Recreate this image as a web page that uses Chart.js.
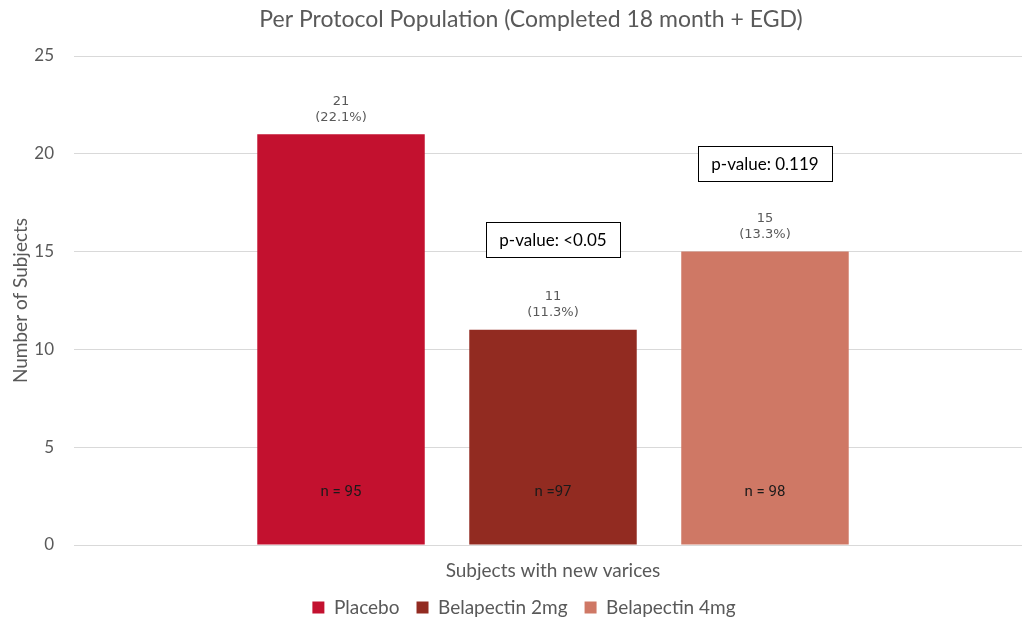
<!DOCTYPE html>
<html><head><meta charset="utf-8">
<script src="https://cdn.jsdelivr.net/npm/chart.js@4.4.1/dist/chart.umd.min.js"></script>
<style>html,body{margin:0;padding:0;background:#fff}#wrap{width:1022px;height:624px}</style>
</head><body><div id="wrap"><canvas id="c" width="1022" height="624"></canvas></div>
<script>
const categories = ['Subjects with new varices'];
const seriesNames = ['Placebo', 'Belapectin 2mg', 'Belapectin 4mg'];
const seriesValues = [21, 11, 15];
const seriesPct = ['(22.1%)', '(11.3%)', '(13.3%)'];
const seriesN = ['n = 95', 'n =97', 'n = 98'];
const seriesColors = ['#C3112F', '#922B21', '#CF7865'];
const pValueLabels = [null, 'p-value: <0.05', 'p-value: 0.119'];
const pValueLevels = [null, 15.6, 19.5];
const yTicks = [0, 5, 10, 15, 20, 25];

const legendShift = {
  id: 'legendShift',
  afterLayout(chart) {
    const l = chart.legend;
    l.top -= 7; l.bottom -= 7; l.left += 13; l.right += 13;
  }
};

const labelPlugin = {
  id: 'labels',
  afterDatasetsDraw(chart) {
    const ctx = chart.ctx;
    const y = chart.scales.y;
    chart.data.datasets.forEach((ds, i) => {
      const bar = chart.getDatasetMeta(i).data[0];
      ctx.save();
      ctx.textAlign = 'center';
      ctx.textBaseline = 'middle';
      ctx.fillStyle = '#595959';
      ctx.font = '13px "DejaVu Sans"';
      ctx.fillText(String(seriesValues[i]), bar.x, bar.y - 33);
      ctx.fillText(seriesPct[i], bar.x, bar.y - 17);
      ctx.fillStyle = '#1a1a1a';
      ctx.font = '15px "Liberation Sans Narrow", "Roboto", sans-serif';
      ctx.fillText(seriesN[i], bar.x, y.getPixelForValue(2.7));
      if (pValueLabels[i]) {
        const cy = y.getPixelForValue(pValueLevels[i]);
        ctx.font = '17px Lato';
        const w = 134, h = 35;
        ctx.fillStyle = '#fff';
        ctx.fillRect(bar.x - w/2, cy - h/2, w, h);
        ctx.strokeStyle = '#000';
        ctx.lineWidth = 1;
        ctx.strokeRect(Math.round(bar.x - w/2) + 0.5, Math.round(cy - h/2) + 0.5, w, h);
        ctx.fillStyle = '#000';
        ctx.fillText(pValueLabels[i], bar.x, cy + 1);
      }
      ctx.restore();
    });
    ctx.save();
    ctx.fillStyle = '#595959';
    ctx.font = '23px Lato';
    ctx.textAlign = 'center';
    ctx.textBaseline = 'middle';
    ctx.fillText('Per Protocol Population (Completed 18 month + EGD)', 531, 20);
    ctx.restore();
  }
};

new Chart(document.getElementById('c'), {
  type: 'bar',
  data: {
    labels: categories,
    datasets: seriesNames.map((n, i) => ({
      label: n,
      data: [seriesValues[i]],
      backgroundColor: seriesColors[i],
      borderWidth: 0
    }))
  },
  options: {
    responsive: false,
    animation: false,
    layout: { padding: { top: 56, left: 0, right: 0, bottom: -10 } },
    datasets: { bar: { categoryPercentage: 0.678, barPercentage: 0.79 } },
    plugins: {
      title: { display: false },
      tooltip: { enabled: false },
      legend: {
        position: 'bottom',
        labels: {
          boxWidth: 12, boxHeight: 12, padding: 17,
          color: '#595959',
          font: { family: 'Lato', size: 19, lineHeight: 1 }
        }
      }
    },
    scales: {
      x: {
        grid: { display: false },
        border: { display: false },
        ticks: { color: '#595959', font: { family: 'Lato', size: 19, lineHeight: 1 }, padding: 8 }
      },
      y: {
        min: 0, max: 25,
        afterBuildTicks(s) { s.ticks = yTicks.map(v => ({ value: v })); },
        afterFit(s) { s.width = 84; },
        grid: { color: '#D9D9D9', lineWidth: 1, drawTicks: true, tickLength: 10 },
        border: { display: false },
        ticks: { color: '#595959', font: { family: 'Lato', size: 17 }, padding: 20 },
        title: { display: true, text: 'Number of Subjects', color: '#595959', font: { family: 'Lato', size: 19 }, padding: { top: 9, bottom: 0 } }
      }
    }
  },
  plugins: [legendShift, labelPlugin]
});
</script></body></html>
